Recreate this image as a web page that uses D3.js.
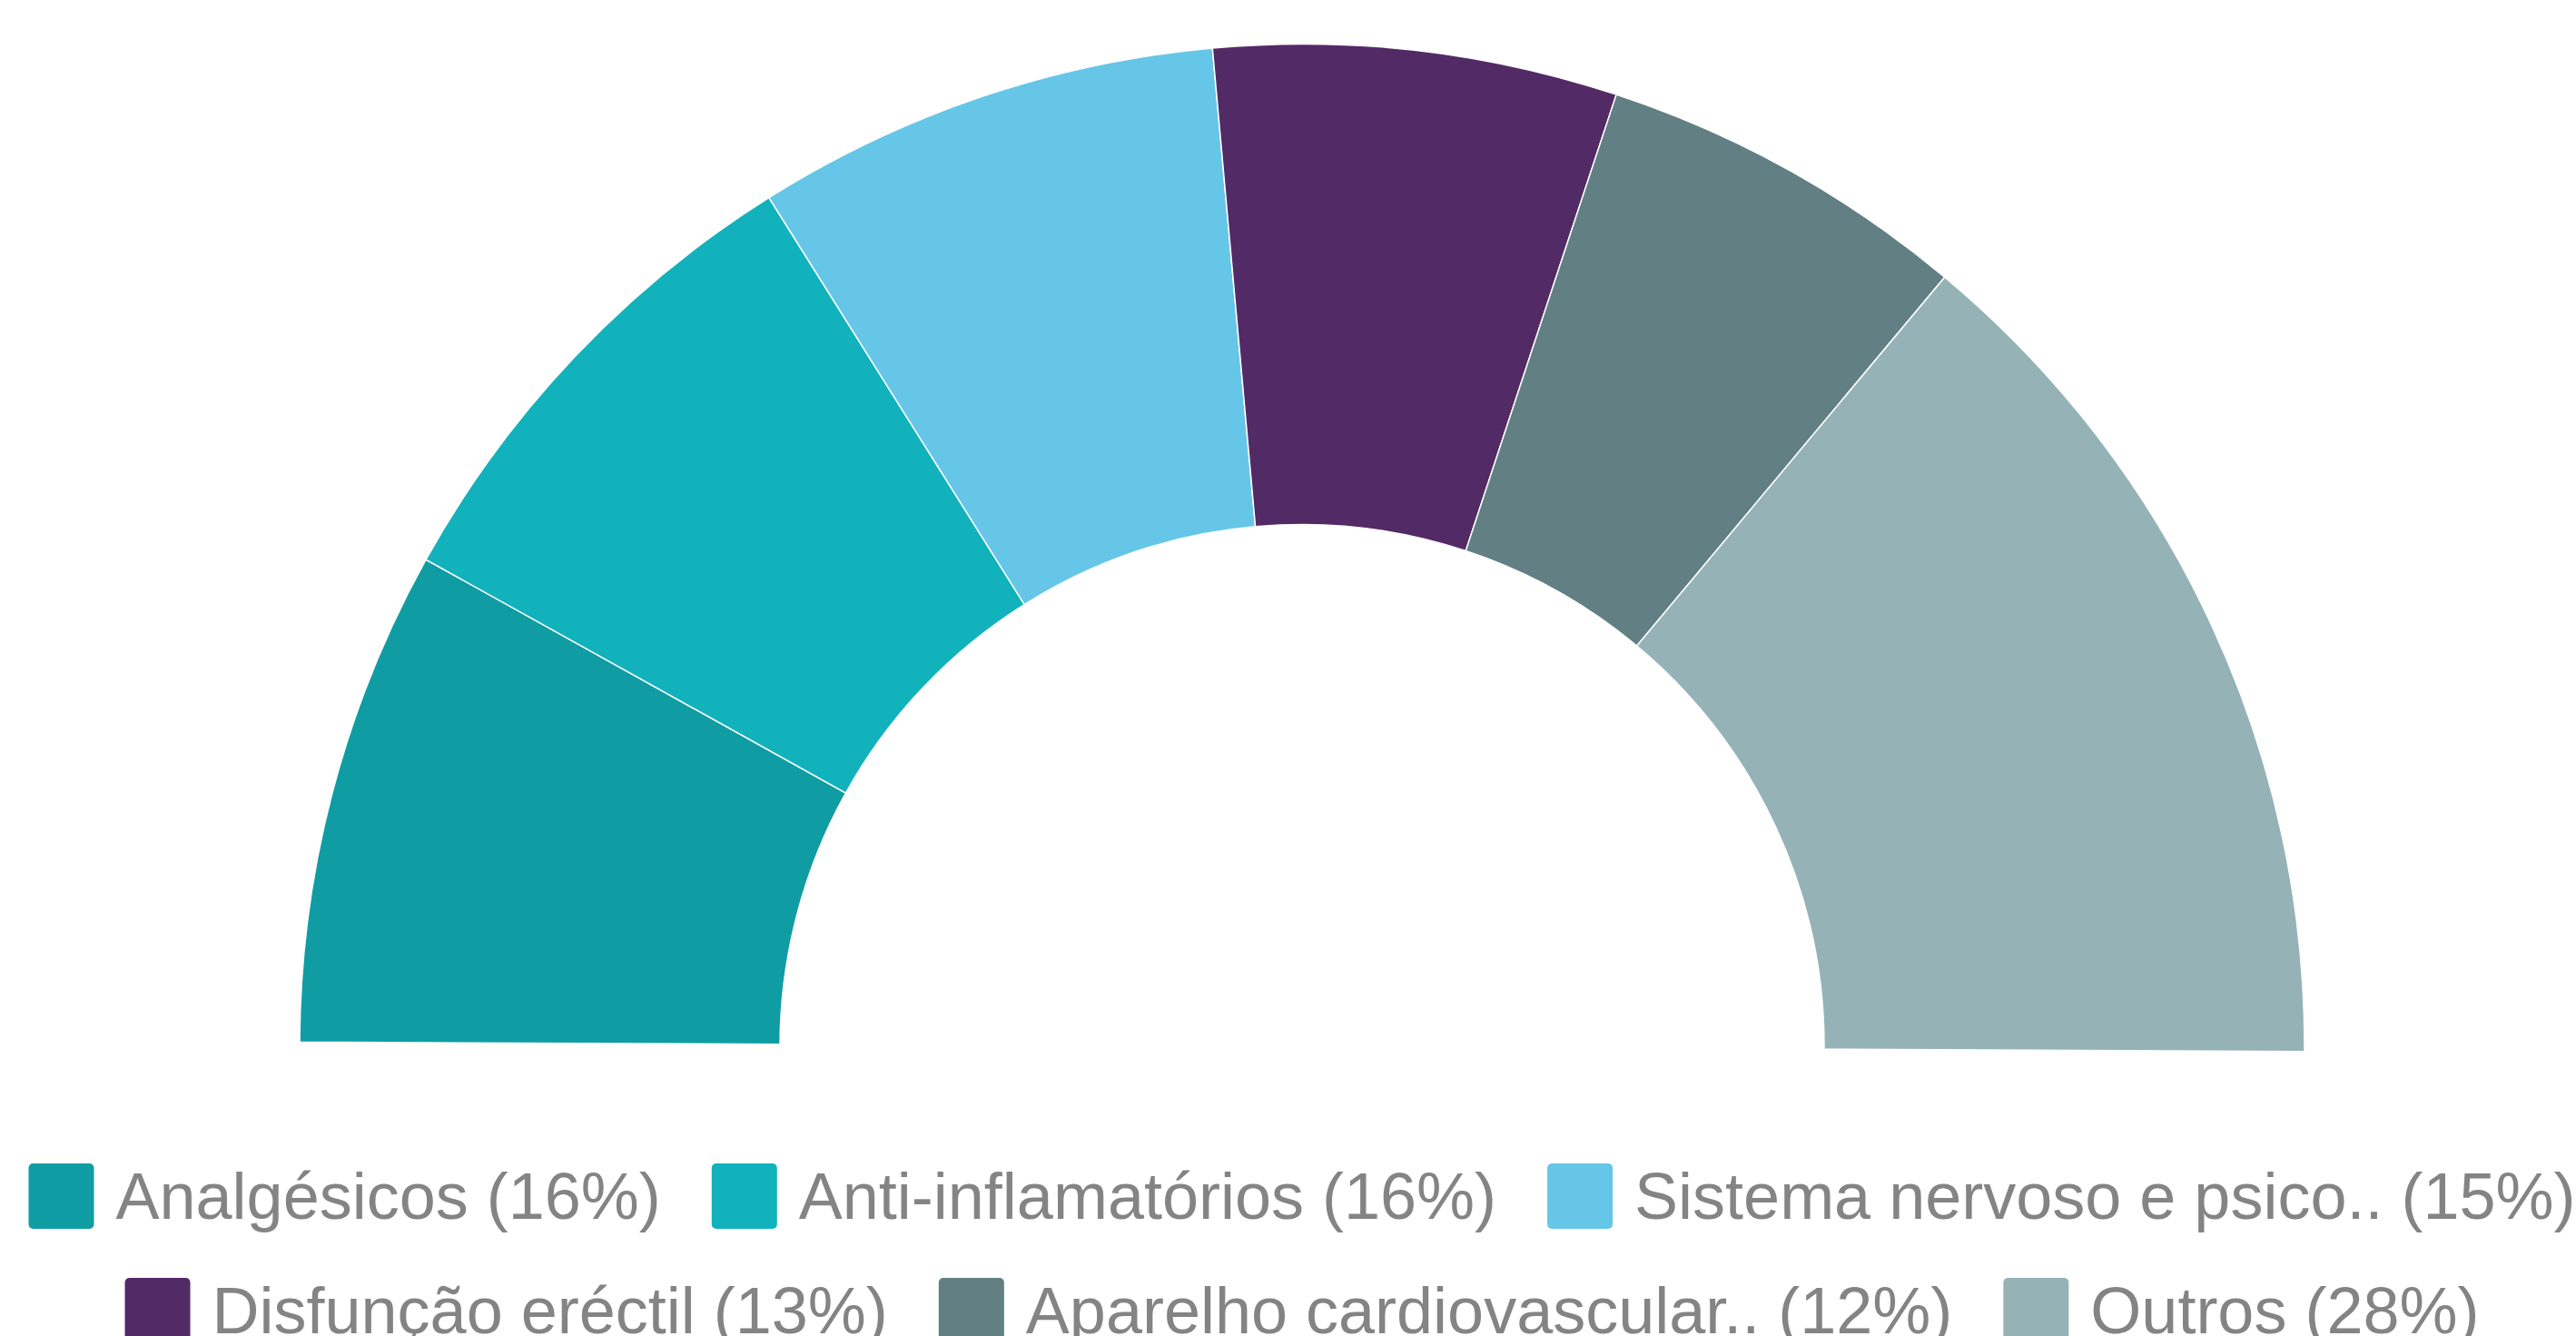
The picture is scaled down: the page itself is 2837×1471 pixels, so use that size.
<!DOCTYPE html>
<html>
<head>
<meta charset="utf-8">
<script src="https://cdn.jsdelivr.net/npm/d3@7"></script>
<style>
  html, body { margin: 0; padding: 0; background: #ffffff; }
  svg { display: block; }
</style>
</head>
<body>
<svg id="chart" width="2837" height="1471"></svg>
<script>
// ---- data ----
const categories = [
  "Analgésicos",
  "Anti-inflamatórios",
  "Sistema nervoso e psico..",
  "Disfunção eréctil",
  "Aparelho cardiovascular..",
  "Outros"
];
const values = [16, 16, 15, 13, 12, 28];
const colors = ["#0F9DA3", "#11B2BB", "#66C6E8", "#522A66", "#627F83", "#95B2B7"];

// ---- layout ----
const W = 2837, H = 1471;
const cx = 1434, cy = 1152.5;
const outerR = 1104, innerR = 575;
const tilt = 0.0047;

const svg = d3.select("#chart");

const pie = d3.pie()
  .sort(null)
  .value(d => d)
  .startAngle(-Math.PI / 2 + tilt)
  .endAngle(Math.PI / 2 + tilt);

const arc = d3.arc().innerRadius(innerR).outerRadius(outerR);

const g = svg.append("g").attr("transform", `translate(${cx},${cy})`);
g.selectAll("path")
  .data(pie(values))
  .join("path")
  .attr("d", arc)
  .attr("fill", (d, i) => colors[i])
  .attr("stroke", "#ffffff")
  .attr("stroke-width", 1.5)
  .attr("stroke-linejoin", "miter");

// ---- legend ----
const total = d3.sum(values);
const labels = categories.map((c, i) => `${c} (${Math.round(values[i] / total * 100)}%)`);

const fontSize = 72;
const sq = 72, gapText = 24, gapItem = 56;
const maxRowW = W - 20;
const rowTop0 = 1281, rowStep = 126;

const legend = svg.append("g");
// measure text widths
const meas = legend.append("text")
  .attr("font-family", "'Liberation Sans', Arial, sans-serif")
  .attr("font-size", fontSize);
const widths = labels.map(l => { meas.text(l); return meas.node().getComputedTextLength(); });
meas.remove();

const rows = [];
let cur = [], curW = 0;
labels.forEach((l, i) => {
  const w = sq + gapText + widths[i];
  const add = cur.length ? gapItem + w : w;
  if (cur.length && curW + add > maxRowW) {
    rows.push({ items: cur, w: curW });
    cur = [i]; curW = w;
  } else {
    cur.push(i); curW += add;
  }
});
if (cur.length) rows.push({ items: cur, w: curW });

rows.forEach((row, r) => {
  let x = cx - row.w / 2;
  const top = rowTop0 + r * rowStep;
  row.items.forEach(i => {
    legend.append("rect")
      .attr("x", x).attr("y", top)
      .attr("width", sq).attr("height", sq)
      .attr("rx", 5).attr("ry", 5)
      .attr("fill", colors[i]);
    legend.append("text")
      .attr("x", x + sq + gapText)
      .attr("y", top + 61)
      .attr("font-family", "'Liberation Sans', Arial, sans-serif")
      .attr("font-size", fontSize)
      .attr("fill", "#848484")
      .text(labels[i]);
    x += sq + gapText + widths[i] + gapItem;
  });
});
</script>
</body>
</html>
